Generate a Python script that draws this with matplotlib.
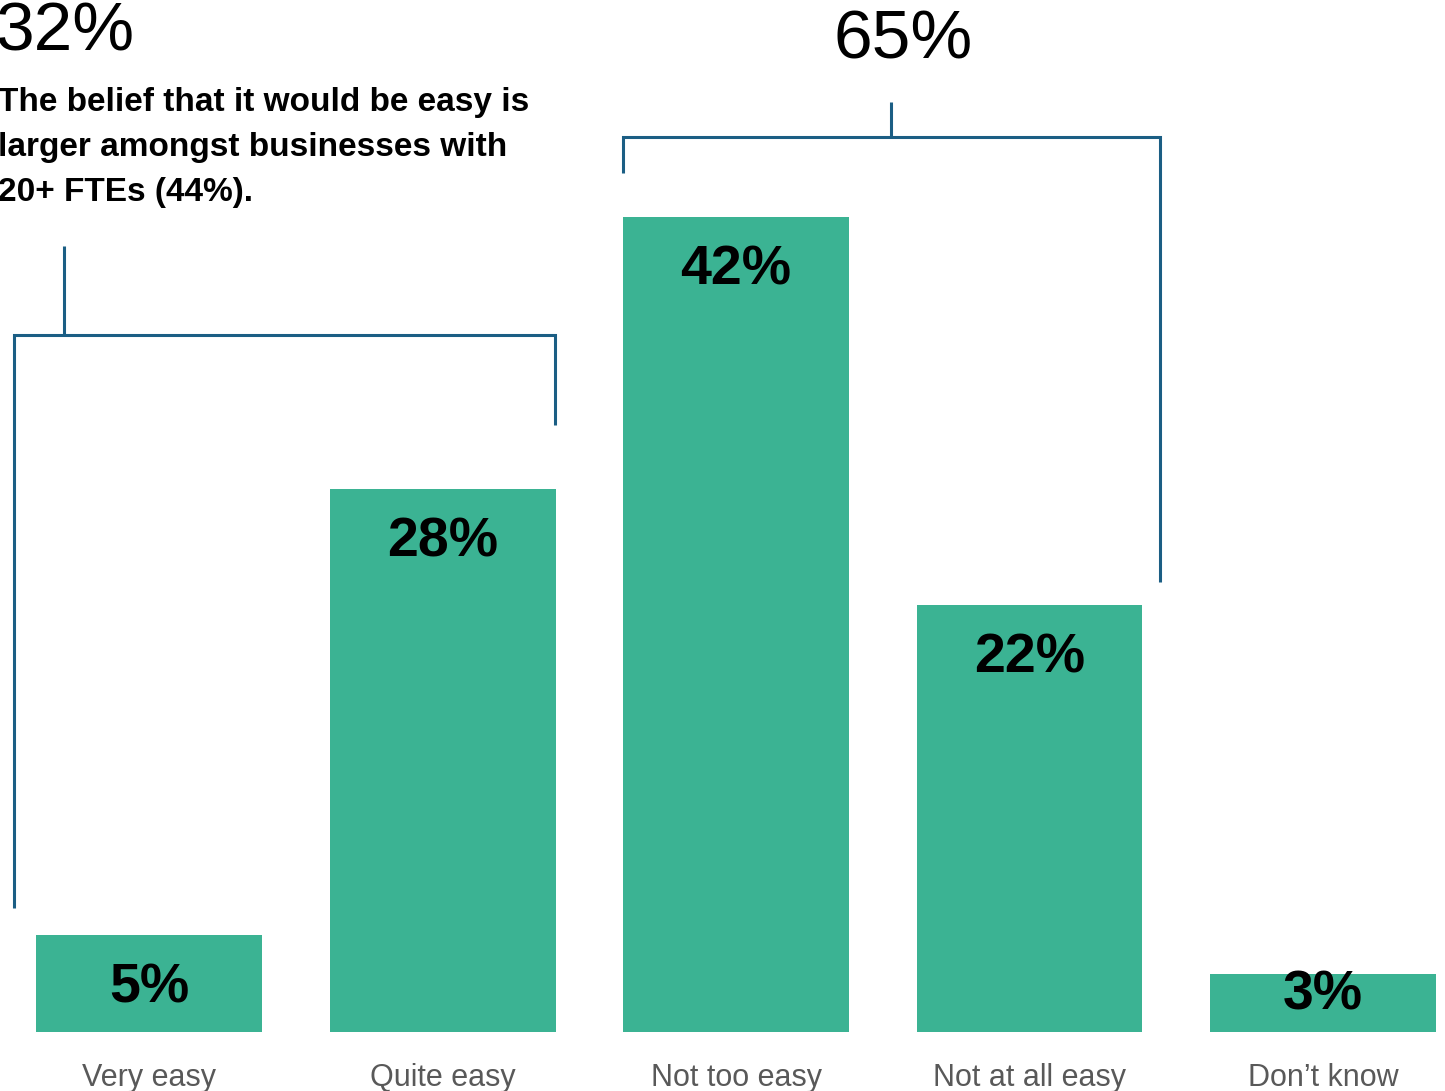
import matplotlib
matplotlib.use("Agg")
import matplotlib.pyplot as plt

categories = ["Very easy", "Quite easy", "Not too easy", "Not at all easy", "Don\u2019t know"]
values = [5, 28, 42, 22, 3]
value_labels = ["5%", "28%", "42%", "22%", "3%"]

easy_total = "32%"
not_easy_total = "65%"
note = "The belief that it would be easy is\nlarger amongst businesses with\n20+ FTEs (44%)."

bar_color = "#3BB393"
line_color = "#1B5E84"
sans = ["Liberation Sans", "DejaVu Sans"]

fig = plt.figure(figsize=(14.45, 10.91), dpi=100)
ax = fig.add_axes([0, 0, 1, 1])
ax.set_xlim(-0.5077, 4.4157)
ax.set_ylim(-3.04, 53.2)
ax.axis("off")

x = list(range(len(categories)))
ax.bar(x, values, width=0.77, color=bar_color)

# value labels inside bars
for i, v in enumerate(values):
    ax.text(i, max(v - 2.75, 1.9), value_labels[i], ha="center", va="center",
            fontsize=40, fontweight="bold", family=sans)

# category labels
for i, c in enumerate(categories):
    ax.text(i, -2.35, c, ha="center", va="center", fontsize=22, color="#595959", family=sans)

# bracket for easy (very + quite)
ax.plot([-0.460, -0.460, 1.383, 1.383], [6.39, 35.93, 35.93, 31.3], color=line_color, lw=2.2,
        solid_joinstyle="miter", solid_capstyle="butt")
ax.plot([-0.2896, -0.2896], [35.93, 40.5], color=line_color, lw=2.2, solid_capstyle="butt")

# bracket for not easy
ax.plot([1.615, 1.615, 3.445, 3.445], [44.28, 46.13, 46.13, 23.2], color=line_color, lw=2.2,
        solid_joinstyle="miter", solid_capstyle="butt")
ax.plot([2.528, 2.528], [46.13, 47.94], color=line_color, lw=2.2, solid_capstyle="butt")

# totals and note
ax.text(-0.525, 51.55, easy_total, ha="left", va="center", fontsize=50, family=sans)
ax.text(2.569, 51.1, not_easy_total, ha="center", va="center", fontsize=50, family=sans)
ax.text(-0.515, 48.7, note, ha="left", va="top", fontsize=24, fontweight="bold",
        linespacing=1.57, family=sans)

fig.savefig("out.png", dpi=100)
